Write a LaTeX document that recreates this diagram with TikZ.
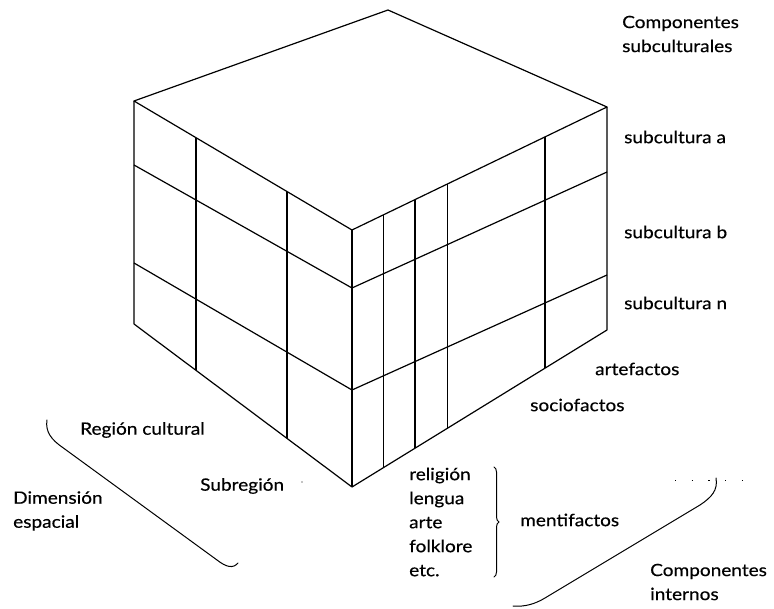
\documentclass[tikz,border=0pt]{standalone}
\usepackage{fontspec}
\setmainfont{Lato}[FakeStretch=1.12, FakeBold=0.4]
\usetikzlibrary{calc,decorations.pathreplacing}
\begin{document}
\begin{tikzpicture}[x=1pt,y=-1pt,
  edge/.style={line width=1.2pt, line join=round},
  lbl/.style={font=\fontsize{17}{24}\selectfont, inner sep=0pt, anchor=west, align=left},
  brk/.style={line width=1pt, line cap=round}]
\useasboundingbox (0,0) rectangle (774,609);
% cube corners
\coordinate (T) at (388,10);
\coordinate (L) at (134,101);
\coordinate (F) at (352,230);
\coordinate (R) at (607,107);
\coordinate (Lb) at (134,324);
\coordinate (Fb) at (352,487);
\coordinate (Rb) at (607,330);
\coordinate (L1) at (134,165);
\coordinate (L2) at (134,263);
\coordinate (F1) at (352,288);
\coordinate (F2) at (352,390);
\coordinate (R1) at (607,172);
\coordinate (R2) at (607,275);
% outline
\draw[edge] (L) -- (T) -- (R) -- (F) -- cycle;
\draw[edge] (L) -- (Lb) -- (Fb) -- (Rb) -- (R);
\draw[edge] (F) -- (Fb);
% rows
\draw[edge] (L1) -- (F1) -- (R1);
\draw[edge] (L2) -- (F2) -- (R2);
% left face columns
\foreach \f in {0.284,0.702}
  \draw[edge] ($(L)!\f!(F)$) -- ($(Lb)!\f!(Fb)$);
% right face columns
\foreach \f in {0.122,0.247,0.376,0.757}
  \draw[edge] ($(F)!\f!(R)$) -- ($(Fb)!\f!(Rb)$);
% labels
\node[lbl] (compsub) at (622,34) {Componentes\\subculturales};
\node[lbl] (suba) at (624,137) {subcultura a};
\node[lbl] (subb) at (624,232) {subcultura b};
\node[lbl] (subn) at (624,303) {subcultura n};
\node[lbl] (arte) at (595,369) {artefactos};
\node[lbl] (socio) at (530,405) {sociofactos};
\node[lbl] (list) at (409,522) {religión\\lengua\\arte\\folklore\\etc.};
\node[lbl] (menti) at (520,520) {mentifactos};
\node[lbl] (compint) at (650,582) {Componentes\\internos};
\node[lbl] (region) at (80,430) {Región cultural};
\node[lbl] (subreg) at (200,486) {Subregión};
\node[lbl] (dim) at (13,511) {Dimensión\\espacial};
% brace for mentifactos
\draw[brk, decorate, decoration={brace, amplitude=5pt}] (494,467) -- (494,577);
% left bracket
\draw[brk] (47,420) .. controls (45,432) and (52,440) .. (62,447) -- (217,560)
  .. controls (226,567) and (233,569) .. (238,563);
% right bracket
\draw[brk] (716,478) .. controls (718,490) and (712,497) .. (700,505) -- (545,598)
  .. controls (535,604) and (525,607) .. (513,606);
% dotted remnant
\draw[line width=1pt, dash pattern=on 1.2pt off 15.5pt] (675,480) -- (752,480);
\fill (302,482) circle (0.7);
\end{tikzpicture}
\end{document}
